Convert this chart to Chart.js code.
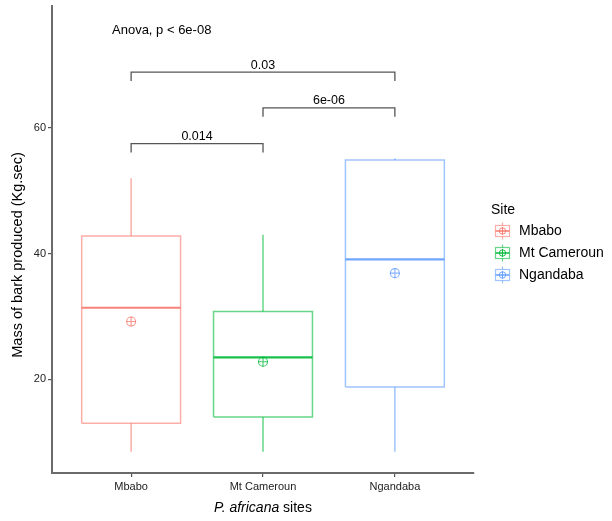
<!DOCTYPE html>
<html>
<head>
<meta charset="utf-8">
<script src="https://cdn.jsdelivr.net/npm/chart.js@4.4.1/dist/chart.umd.min.js"></script>
<style>
  html, body { margin: 0; padding: 0; background: #fff; }
  #wrap { width: 612px; height: 521px; }
</style>
</head>
<body>
<div id="wrap"><canvas id="chart" width="612" height="521"></canvas></div>
<script>
// values
var sites = ["Mbabo", "Mt Cameroun", "Ngandaba"];
var whiskerLow = [8.5, 8.5, 8.5];
var q1 = [13.0, 14.0, 18.8];
var medians = [31.4, 23.5, 39.1];
var q3 = [42.8, 30.8, 54.9];
var whiskerHigh = [52.0, 43.0, 55.2];
var means = [29.2, 22.8, 36.9];

var pairs = [[1, 2], [2, 3], [1, 3]];
var pLabels = ["0.014", "6e-06", "0.03"];
var bracketY = [57.5, 63.2, 68.9];
var bracketTip = 1.4;
var anovaText = "Anova, p < 6e-08";
var anovaPos = { x: 0.855, y: 75.6 };

var yTicks = [20, 40, 60];
var siteColors = ["#F8766D", "#00BA38", "#619CFF"];

function alpha(hex, a) {
    var n = parseInt(hex.slice(1), 16);
    return "rgba(" + (n >> 16) + "," + ((n >> 8) & 255) + "," + (n & 255) + "," + a + ")";
}

var halfW = 0.375;
var datasets = [];
sites.forEach(function (s, i) {
    var x = i + 1, c = siteColors[i];
    var light = alpha(c, 0.6);
    var lineDs = function (pts, color, w) {
        return { data: pts, showLine: true, borderColor: color, borderWidth: w,
                 pointRadius: 0, pointHoverRadius: 0, fill: false };
    };
    // box
    datasets.push(lineDs([
        { x: x - halfW, y: q1[i] }, { x: x - halfW, y: q3[i] },
        { x: x + halfW, y: q3[i] }, { x: x + halfW, y: q1[i] },
        { x: x - halfW, y: q1[i] }], light, 1.5));
    // whiskers
    datasets.push(lineDs([{ x: x, y: q3[i] }, { x: x, y: whiskerHigh[i] }], light, 1.5));
    datasets.push(lineDs([{ x: x, y: q1[i] }, { x: x, y: whiskerLow[i] }], light, 1.5));
    // median
    datasets.push(lineDs([{ x: x - halfW, y: medians[i] }, { x: x + halfW, y: medians[i] }], alpha(c, 0.9), 2.2));
    // mean marker (circle + cross)
    datasets.push({ data: [{ x: x, y: means[i] }], pointStyle: "circle", pointRadius: 4.5,
                    pointBorderColor: alpha(c, 0.75), pointBackgroundColor: "rgba(0,0,0,0)",
                    pointBorderWidth: 1.1, showLine: false });
    datasets.push({ data: [{ x: x, y: means[i] }], pointStyle: "cross", pointRadius: 5,
                    pointBorderColor: alpha(c, 0.75), pointBorderWidth: 1.1, showLine: false });
});

// significance brackets
pairs.forEach(function (p, k) {
    datasets.push({
        data: [{ x: p[0], y: bracketY[k] - bracketTip }, { x: p[0], y: bracketY[k] },
               { x: p[1], y: bracketY[k] }, { x: p[1], y: bracketY[k] - bracketTip }],
        showLine: true, borderColor: "#555555", borderWidth: 1.3, pointRadius: 0, fill: false
    });
});

var FONT = "'Liberation Sans', Arial, Helvetica, sans-serif";

var annotations = {
    id: "annotations",
    afterDraw: function (chart) {
        var ctx = chart.ctx, xs = chart.scales.x, ys = chart.scales.y;
        ctx.save();
        ctx.fillStyle = "#000";
        // p-value labels
        ctx.font = "12.5px " + FONT;
        ctx.textAlign = "center";
        ctx.textBaseline = "alphabetic";
        pairs.forEach(function (p, k) {
            var cx = (xs.getPixelForValue(p[0]) + xs.getPixelForValue(p[1])) / 2;
            ctx.fillText(pLabels[k], cx, ys.getPixelForValue(bracketY[k]) - 3.5);
        });
        // anova text
        ctx.font = "13px " + FONT;
        ctx.textAlign = "left";
        ctx.textBaseline = "middle";
        ctx.fillText(anovaText, xs.getPixelForValue(anovaPos.x), ys.getPixelForValue(anovaPos.y));

        // axis titles
        ctx.font = "14.5px " + FONT;
        ctx.save();
        ctx.translate(18, 255);
        ctx.rotate(-Math.PI / 2);
        ctx.textAlign = "center";
        ctx.fillText("Mass of bark produced (Kg.sec)", 0, 0);
        ctx.restore();

        var part1 = "P. africana", part2 = " sites";
        ctx.font = "italic 14px " + FONT;
        var w1 = ctx.measureText(part1).width;
        ctx.font = "14px " + FONT;
        var w2 = ctx.measureText(part2).width;
        var cxm = (chart.chartArea.left + chart.chartArea.right) / 2;
        var sx = cxm - (w1 + w2) / 2;
        ctx.textAlign = "left";
        ctx.font = "italic 14px " + FONT;
        ctx.fillText(part1, sx, 508);
        ctx.font = "14px " + FONT;
        ctx.fillText(part2, sx + w1, 508);

        // legend
        ctx.font = "14px " + FONT;
        ctx.fillText("Site", 491, 210);
        sites.forEach(function (s, i) {
            var cy = 231 + i * 22, kx = 502.5, c = siteColors[i];
            ctx.strokeStyle = alpha(c, 0.6);
            ctx.lineWidth = 1.2;
            ctx.strokeRect(kx - 7, cy - 5.5, 14, 11);
            ctx.beginPath();
            ctx.moveTo(kx, cy - 8.5); ctx.lineTo(kx, cy - 5.5);
            ctx.moveTo(kx, cy + 5.5); ctx.lineTo(kx, cy + 8.5);
            ctx.stroke();
            ctx.strokeStyle = alpha(c, 0.9);
            ctx.lineWidth = 1.6;
            ctx.beginPath();
            ctx.moveTo(kx - 7, cy); ctx.lineTo(kx + 7, cy);
            ctx.stroke();
            ctx.lineWidth = 1;
            ctx.beginPath();
            ctx.arc(kx, cy, 3.2, 0, Math.PI * 2);
            ctx.moveTo(kx, cy - 4); ctx.lineTo(kx, cy + 4);
            ctx.stroke();
            ctx.fillStyle = "#000";
            ctx.fillText(s, 519, cy);
        });
        ctx.restore();
    }
};

new Chart(document.getElementById("chart"), {
    type: "scatter",
    data: { datasets: datasets },
    options: {
        responsive: false,
        animation: false,
        maintainAspectRatio: false,
        layout: { padding: { top: 2, right: 138, left: 0, bottom: 0 } },
        plugins: { legend: { display: false }, tooltip: { enabled: false } },
        scales: {
            x: {
                type: "linear", min: 0.4, max: 3.6,
                afterFit: function (s) { s.height = 48; s.paddingLeft = 0; s.paddingRight = 0; },
                afterBuildTicks: function (s) { s.ticks = sites.map(function (_, i) { return { value: i + 1 }; }); },
                grid: { drawOnChartArea: false, drawTicks: true, tickLength: 4, color: "#555555", lineWidth: 1.2 },
                border: { display: true, color: "#6b6b6b", width: 2 },
                ticks: {
                    color: "#222222", padding: 3, maxRotation: 0, autoSkip: false,
                    font: { family: FONT, size: 11 },
                    callback: function (v) { return sites[Math.round(v) - 1] || ""; }
                }
            },
            y: {
                type: "linear", min: 5.1, max: 79.4,
                afterFit: function (s) { s.width = 52; s.paddingTop = 0; s.paddingBottom = 0; },
                afterBuildTicks: function (s) { s.ticks = yTicks.map(function (v) { return { value: v }; }); },
                grid: { drawOnChartArea: false, drawTicks: true, tickLength: 4, color: "#555555", lineWidth: 1.2 },
                border: { display: true, color: "#6b6b6b", width: 2 },
                ticks: { color: "#222222", padding: 2, font: { family: FONT, size: 11 } }
            }
        }
    },
    plugins: [annotations]
});
</script>
</body>
</html>
